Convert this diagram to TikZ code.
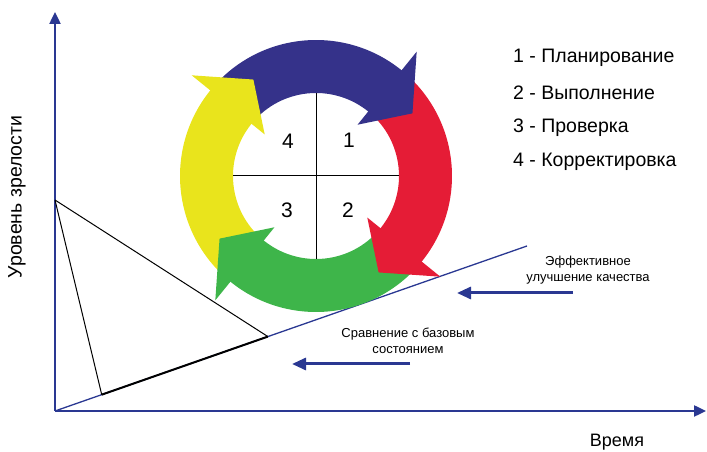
\documentclass[tikz,border=0pt]{standalone}
\usepackage{fontspec}
\setmainfont{Liberation Sans}
\usetikzlibrary{arrows.meta,calc}
\definecolor{axisblue}{RGB}{42,56,146}
\definecolor{planblue}{RGB}{53,50,138}
\definecolor{checkred}{RGB}{229,28,54}
\definecolor{actgreen}{RGB}{62,181,74}
\definecolor{fixyellow}{RGB}{233,228,28}
\begin{document}
\begin{tikzpicture}[x=1pt,y=1pt,
	axis/.style={draw=axisblue,line width=2.4pt,-{Triangle[length=12pt,width=11pt]}},
	hint/.style={draw=axisblue,line width=3pt,-{Triangle[length=14pt,width=12pt]}},
	legend/.style={anchor=base west,inner sep=0pt,font=\fontsize{19.5}{22}\selectfont},
	note/.style={align=center,inner sep=0pt,font=\fontsize{13}{16}\selectfont},
	digit/.style={inner sep=0pt,font=\fontsize{21}{23}\selectfont}]
	\useasboundingbox (0,0) rectangle (707,452);
	\coordinate (O) at (55,41);
	\coordinate (ytop) at (55,440);
	\coordinate (xend) at (706,41);
	\coordinate (D) at (527,206);
	\coordinate (apex) at (55,252);
	\coordinate (f1) at ($(O)!0.099!(D)$);
	\coordinate (f2) at ($(O)!0.451!(D)$);
	\coordinate (C) at (316,276);
	\draw[axis] (O) -- (ytop);
	\draw[axis] (O) -- (xend);
	\draw[axisblue,line width=1.3pt] (O) -- (D);
	\draw[line width=1pt] (apex) -- (f1) (apex) -- (f2);
	\draw[line width=2pt] (f1) -- (f2);
	\begin{scope}[shift={(C)}]
	\foreach \col/\tl/\bs in {planblue/137/51,checkred/47/-39,actgreen/-43/-129,fixyellow/227/141}
		\fill[\col] (\tl:136) arc[start angle=\tl,end angle=\bs-1,radius=136]
			-- ({\bs-1}:83) arc[start angle=\bs-1,end angle=\tl,radius=83] -- cycle;
	\foreach \col/\bs in {planblue/51,checkred/-39,actgreen/-129,fixyellow/141}
		\fill[\col] (\bs:160) -- ({\bs-18}:115) -- (\bs:66) -- cycle;
	\end{scope}
	\draw[line width=1pt] ($(C)+(-83,0)$) -- ($(C)+(83,0)$) ($(C)+(0,-83)$) -- ($(C)+(0,83)$);
	\node[digit] (n1) at (349,312) {1};
	\node[digit] (n2) at (348,242) {2};
	\node[digit] (n3) at (287,242) {3};
	\node[digit] (n4) at (288,311) {4};
	\node[legend] (l1) at (513,389) {1 - Планирование};
	\node[legend] (l2) at (513,352) {2 - Выполнение};
	\node[legend] (l3) at (513,319) {3 - Проверка};
	\node[legend] (l4) at (513,285) {4 - Корректировка};
	\node[note] (eff) at (588,182) {Эффективное\\улучшение качества};
	\node[note] (base) at (408,111) {Сравнение с базовым\\состоянием};
	\coordinate (e1) at (573,159);
	\coordinate (e2) at (457,159);
	\coordinate (b1) at (410,88);
	\coordinate (b2) at (292,88);
	\draw[hint] (e1) -- (e2);
	\draw[hint] (b1) -- (b2);
	\node[rotate=90,font=\fontsize{19.5}{22}\selectfont] (ylab) at (17,255) {Уровень зрелости};
	\node[anchor=base,inner sep=0pt,font=\fontsize{18}{20}\selectfont] (xlab) at (617,5) {Время};
\end{tikzpicture}
\end{document}
